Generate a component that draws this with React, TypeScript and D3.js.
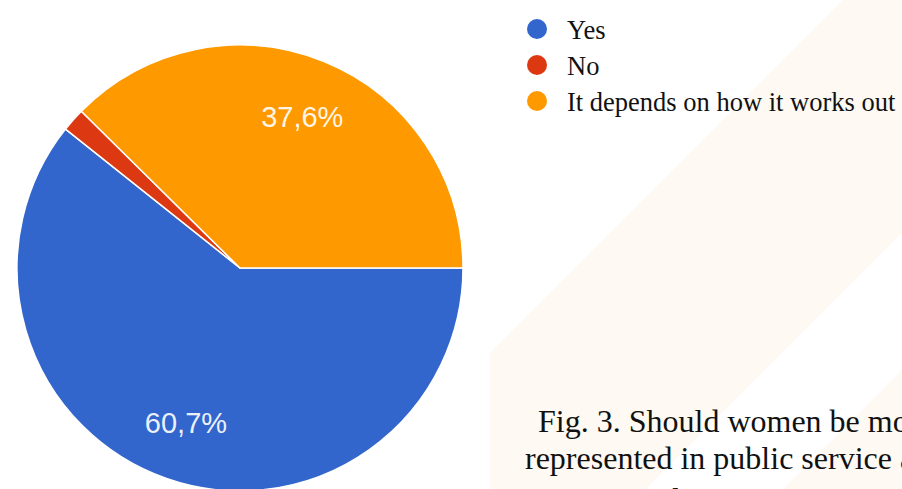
import React from "react";
import * as d3 from "d3";

const categories = ["Yes", "No", "It depends on how it works out"];
const values = [60.7, 1.7, 37.6];
const labels = ["60,7%", "", "37,6%"];
const colors = ["#3366cc", "#dc3912", "#ff9900"];
const captionLines = [
  "Fig. 3. Should women be more",
  "represented in public service and",
  "politics?",
];

export default function App() {
  const W = 902;
  const H = 489;
  const cx = 240;
  const cy = 268;
  const r = 223;

  const pie = d3
    .pie<number>()
    .sort(null)
    .startAngle(Math.PI / 2)
    .endAngle(Math.PI / 2 + 2 * Math.PI)
    .value((d) => d);
  const arcs = pie(values);
  const arc = d3.arc<d3.PieArcDatum<number>>().innerRadius(0).outerRadius(r);
  const labelArc = d3
    .arc<d3.PieArcDatum<number>>()
    .innerRadius(r * 0.735)
    .outerRadius(r * 0.735);

  const legendY = d3.scalePoint<string>().domain(categories).range([29, 101]);

  return (
    <svg
      width={W}
      height={H}
      style={{ position: "absolute", left: 0, top: 0, background: "#ffffff" }}
    >
      <polygon
        points={`843,0 1135,0 ${1135 - H},${H} 490,${H} 490,${843 - 490}`}
        fill="#fef9f2"
      />
      <polygon points={`1272,0 1600,0 ${1600 - H},${H} ${1272 - H},${H}`} fill="#fef9f2" />
      <g transform={`translate(${cx},${cy})`}>
        {arcs.map((a, i) => (
          <path key={i} d={arc(a) || ""} fill={colors[i]} stroke="#ffffff" strokeWidth={1.5} />
        ))}
        {arcs.map((a, i) => {
          if (!labels[i]) return null;
          const [lx, ly] = labelArc.centroid(a);
          return (
            <text
              key={"l" + i}
              x={lx}
              y={ly}
              dy="0.36em"
              textAnchor="middle"
              fill="#ffffff"
              fillOpacity={0.92}
              fontFamily="'Liberation Sans', Arial, sans-serif"
              fontSize={29}
            >
              {labels[i]}
            </text>
          );
        })}
      </g>
      <g>
        {categories.map((c, i) => (
          <g key={c} transform={`translate(0,${legendY(c)})`}>
            <circle cx={537} cy={0} r={10} fill={colors[i]} />
            <text
              x={567}
              y={0}
              dy="0.38em"
              fontFamily="'Liberation Serif', 'Times New Roman', serif"
              fontSize={26.5}
              fill="#111111"
            >
              {c}
            </text>
          </g>
        ))}
      </g>
      <g fontFamily="'Liberation Serif', 'Times New Roman', serif" fontSize={32} fill="#111111">
        <text x={538} y={432}>{captionLines[0]}</text>
        <text x={525} y={469}>{captionLines[1]}</text>
        <text x={640} y={510}>{captionLines[2]}</text>
      </g>
    </svg>
  );
}
